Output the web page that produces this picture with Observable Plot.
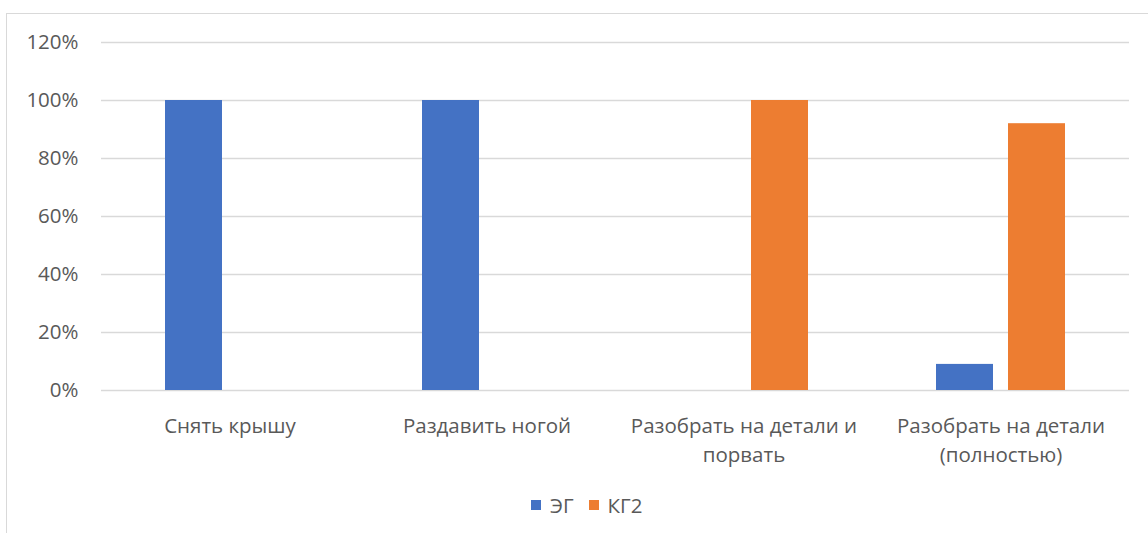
<!DOCTYPE html>
<html>
<head>
<meta charset="utf-8">
<script src="https://cdn.jsdelivr.net/npm/d3@7"></script>
<script src="https://cdn.jsdelivr.net/npm/@observablehq/plot@0.6"></script>
<style>
  html, body { margin: 0; padding: 0; background: #fff; width: 1148px; height: 533px; overflow: hidden; }
  body { position: relative; font-family: "Open Sans", sans-serif; color: #595959; }
  #frame { position: absolute; left: 6px; top: 13px; width: 1200px; height: 600px; border: 1px solid #d9d9d9; box-sizing: border-box; }
  #chart { position: absolute; left: 0; top: 0; }
  #legend { position: absolute; left: 531px; top: 491px; display: flex; gap: 15px; font-size: 20.5px; }
  .item { display: flex; align-items: center; gap: 9px; }
  .sw { width: 10px; height: 10px; display: inline-block; }
</style>
</head>
<body>
<div id="frame"></div>
<div id="chart"></div>
<div id="legend"></div>
<script>
const categories = ["Снять крышу", "Раздавить ногой", "Разобрать на детали и порвать", "Разобрать на детали (полностью)"];
const categoryLabels = ["Снять крышу", "Раздавить ногой", "Разобрать на детали и\nпорвать", "Разобрать на детали\n(полностью)"];
const series = ["ЭГ", "КГ2"];
const colors = ["#4472C4", "#ED7D31"];
const valuesEG = [1.00, 1.00, 0.00, 0.09];
const valuesKG2 = [0.00, 0.00, 1.00, 0.92];
const yTicks = [0, 0.2, 0.4, 0.6, 0.8, 1.0, 1.2];

const data = [];
categories.forEach((c, i) => {
  data.push({category: c, series: series[0], value: valuesEG[i]});
  data.push({category: c, series: series[1], value: valuesKG2[i]});
});
const labelOf = new Map(categories.map((c, i) => [c, categoryLabels[i]]));

const chart = Plot.plot({
  width: 1148,
  height: 470,
  marginLeft: 100,
  marginRight: 19,
  marginTop: 42,
  marginBottom: 80,
  style: {fontFamily: "Open Sans, sans-serif", fontSize: "20.5px", color: "#595959", background: "transparent"},
  fx: {domain: categories, padding: 0, label: null},
  x: {domain: series, paddingInner: 0.205, paddingOuter: 0.863, axis: null},
  y: {domain: [0, 1.2], label: null},
  color: {domain: series, range: colors},
  marks: [
    Plot.ruleY(yTicks, {stroke: "#d9d9d9", strokeWidth: 1.3}),
    Plot.barY(data, {fx: "category", x: "series", y: "value", fill: "series"}),
    Plot.axisY(yTicks, {tickSize: 0, tickPadding: 23, tickFormat: d3.format(".0%"), fill: "#595959", fontSize: 20.5, label: null}),
    Plot.axisFx({anchor: "bottom", tickSize: 0, tickPadding: 23, tickFormat: d => labelOf.get(d), fill: "#595959", fontSize: 20.5, lineHeight: 1.37, label: null})
  ]
});
document.getElementById("chart").appendChild(chart);

const legend = document.getElementById("legend");
series.forEach((s, i) => {
  const item = document.createElement("div");
  item.className = "item";
  const sw = document.createElement("span");
  sw.className = "sw";
  sw.style.background = colors[i];
  const t = document.createElement("span");
  t.textContent = s;
  item.appendChild(sw);
  item.appendChild(t);
  legend.appendChild(item);
});
</script>
</body>
</html>
